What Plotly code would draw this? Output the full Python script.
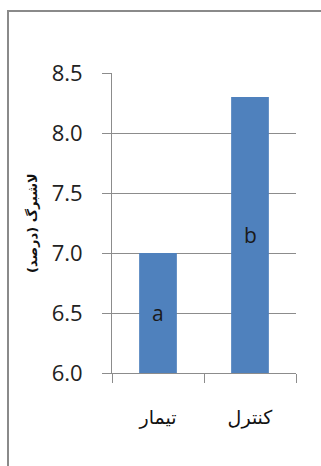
import plotly.graph_objects as go

# Litter percentage by group
categories = ["تیمار", "کنترل"]
values = [7.0, 8.3]
letters = ["a", "b"]
y_ticks = [6.0, 6.5, 7.0, 7.5, 8.0, 8.5]
y_title = "لاشبرگ (درصد)"
y_min, y_max = 6.0, 8.5

W, H = 321, 466
ml, mr, mt, mb = 112, 25, 73, 93
pw, ph = W - ml - mr, H - mt - mb

grid_col = "#8c8c8c"

fig = go.Figure(
    go.Bar(
        x=categories,
        y=values,
        marker=dict(color="#4F81BD", line=dict(width=0)),
        width=0.41,
    )
)

# significance letters centred in the visible part of each bar
for cat, v, letter in zip(categories, values, letters):
    fig.add_annotation(
        x=cat,
        y=(y_min + v) / 2,
        text=letter,
        showarrow=False,
        xanchor="center",
        yanchor="middle",
        font=dict(family="Open Sans, DejaVu Sans", size=21, color="#1a1a1a"),
    )

fig.update_layout(
    width=W,
    height=H,
    margin=dict(l=ml, r=mr, t=mt, b=mb),
    paper_bgcolor="white",
    plot_bgcolor="white",
    showlegend=False,
    bargap=0.59,
    xaxis=dict(
        showline=True,
        linecolor=grid_col,
        linewidth=1,
        ticks="outside",
        tickson="boundaries",
        ticklen=9,
        tickcolor=grid_col,
        ticklabelstandoff=27,
        tickfont=dict(family="DejaVu Sans", size=19, color="#111"),
        showgrid=False,
    ),
    yaxis=dict(
        range=[y_min, y_max],
        tickvals=y_ticks,
        ticktext=[f"{v:.1f}" for v in y_ticks],
        showline=True,
        linecolor=grid_col,
        linewidth=1,
        ticks="outside",
        ticklen=9,
        tickcolor=grid_col,
        ticklabelstandoff=15,
        tickfont=dict(family="Open Sans, DejaVu Sans", size=22, color="#222"),
        showgrid=True,
        gridcolor=grid_col,
        gridwidth=1,
        zeroline=False,
    ),
)

# rotated axis title
fig.add_annotation(
    text="<b>" + y_title + "</b>",
    xref="paper",
    yref="paper",
    x=(32 - ml) / pw,
    y=0.5,
    xanchor="center",
    yanchor="middle",
    textangle=-90,
    showarrow=False,
    font=dict(family="DejaVu Sans", size=13, color="#111"),
)

# outer chart frame
fig.add_shape(
    type="rect",
    xref="paper",
    yref="paper",
    x0=(8 - ml) / pw,
    x1=(W + 10 - ml) / pw,
    y0=-(H + 10 - mt - ph) / ph,
    y1=1 + (mt - 11) / ph,
    line=dict(color="#8a8a8a", width=2),
    fillcolor="rgba(0,0,0,0)",
    layer="below",
)

fig.write_html("out.html")
